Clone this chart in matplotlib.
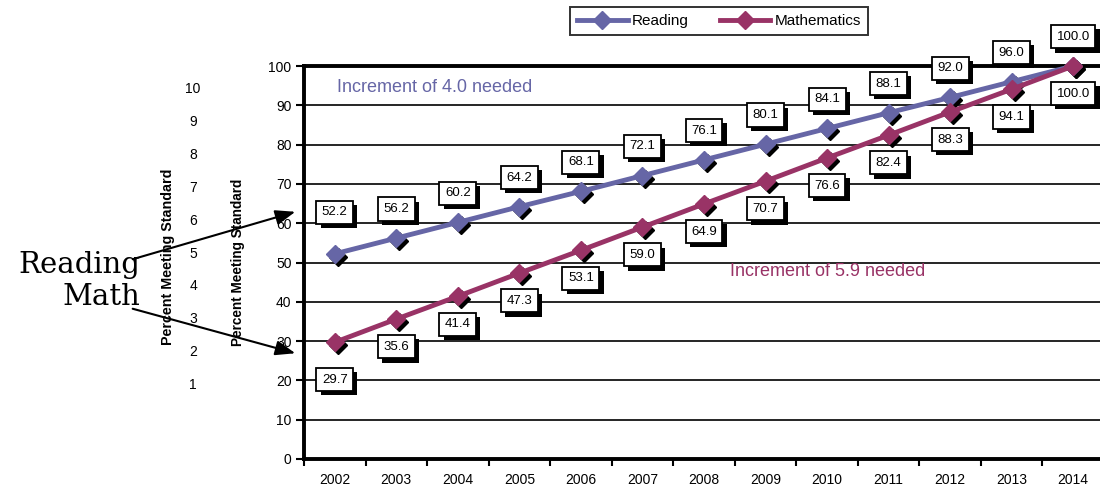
import matplotlib
matplotlib.use("Agg")
from matplotlib import pyplot as plt
from matplotlib import patheffects as pe
from matplotlib import transforms as mtransforms

years = ['2002', '2003', '2004', '2005', '2006', '2007', '2008',
         '2009', '2010', '2011', '2012', '2013', '2014']
reading = [52.2, 56.2, 60.2, 64.2, 68.1, 72.1, 76.1, 80.1, 84.1, 88.1, 92.0, 96.0, 100.0]
math = [29.7, 35.6, 41.4, 47.3, 53.1, 59.0, 64.9, 70.7, 76.6, 82.4, 88.3, 94.1, 100.0]
side_numbers = ['10', '9', '8', '7', '6', '5', '4', '3', '2', '1']

read_color = '#6666a6'
math_color = '#993366'

plt.rcParams['font.family'] = ['Liberation Sans', 'DejaVu Sans']

W, H = 1100, 497
fig = plt.figure(figsize=(W / 100, H / 100), dpi=100)
ax = fig.add_axes([304 / W, 1 - 459 / H, 800 / W, 393 / H])

x = list(range(len(years)))

# shadows under the diamonds
shadow = mtransforms.offset_copy(ax.transData, fig=fig, x=3, y=-3, units='dots')
for vals in (reading, math):
    ax.plot(x, vals, linestyle='none', marker='D', markersize=9,
            color='black', transform=shadow, zorder=3, clip_on=False)

ax.plot(x, reading, color=read_color, linewidth=3.5, marker='D', markersize=9,
        label='Reading', zorder=4, clip_on=False)
ax.plot(x, math, color=math_color, linewidth=3.5, marker='D', markersize=9,
        label='Mathematics', zorder=4, clip_on=False)


def box_label(xi, yi, dy):
    t = ax.annotate(f'{yi:.1f}', (xi, yi), xytext=(0, dy), textcoords='offset points',
                    ha='center', va='center', fontsize=9.5, zorder=6,
                    annotation_clip=False,
                    bbox=dict(boxstyle='square,pad=0.42', fc='white', ec='black', lw=1.3))
    t.get_bbox_patch().set_path_effects([
        pe.SimplePatchShadow(offset=(3, -3), shadow_rgbFace='black', alpha=1.0),
        pe.Normal()])


for i, v in enumerate(reading):
    box_label(i, v, 30 if i == 0 else 21)
for i, v in enumerate(math):
    box_label(i, v, -27 if i == 0 else -20)

ax.text(0.03, 94.5, 'Increment of 4.0 needed', color=read_color, fontsize=13,
        va='center', ha='left')
ax.text(6.42, 47.8, 'Increment of 5.9 needed', color=math_color, fontsize=13,
        va='center', ha='left')

ax.set_xlim(-0.5, len(years) - 0.5)
ax.set_ylim(0, 100)
ax.set_yticks(range(0, 101, 10))
ax.set_xticks(x)
ax.set_xticklabels(years, fontsize=10)
ax.set_xticks([i - 0.5 for i in range(len(years) + 1)], minor=True)
ax.tick_params(axis='x', which='major', length=0, pad=10)
ax.tick_params(axis='x', which='minor', length=5, width=1.5, direction='out')
ax.tick_params(axis='y', length=6, width=1.5, direction='out', labelsize=10, pad=3)
ax.yaxis.grid(True, color='black', linewidth=1.2)
ax.set_axisbelow(True)
for side in ('left', 'bottom', 'top'):
    ax.spines[side].set_linewidth(2.8)
ax.spines['right'].set_visible(False)

fig.legend(loc='center', bbox_to_anchor=(719 / W, 1 - 21 / H), ncol=2,
           fontsize=11, frameon=True, fancybox=False, edgecolor='black',
           handlelength=3.3, handletextpad=0.3, columnspacing=2.0,
           borderpad=0.45).get_frame().set_linewidth(1.4)

# side scale and axis titles left of the chart
for k, s in enumerate(side_numbers):
    fig.text(193 / W, 1 - (89 + k * 32.9) / H, s, ha='center', va='center', fontsize=10)
fig.text(168 / W, 1 - 257 / H, 'Percent Meeting Standard', rotation=90,
         ha='center', va='center', fontsize=10.3, fontweight='bold')
fig.text(238 / W, 1 - 262 / H, 'Percent Meeting Standard', rotation=90,
         ha='center', va='center', fontsize=9.8, fontweight='bold')

fig.text(140 / W, 1 - 265 / H, 'Reading', ha='right', va='center',
         fontsize=21, family='DejaVu Serif')
fig.text(140 / W, 1 - 297 / H, 'Math', ha='right', va='center',
         fontsize=21, family='DejaVu Serif')

arrow = dict(arrowstyle='-|>,head_length=1.2,head_width=0.45', color='black', lw=1.5)
fig.add_artist(plt.matplotlib.text.Annotation(
    '', xy=(298, H - 211), xytext=(130, H - 260), xycoords='figure pixels',
    textcoords='figure pixels', arrowprops=arrow))
fig.add_artist(plt.matplotlib.text.Annotation(
    '', xy=(298, H - 354), xytext=(130, H - 308), xycoords='figure pixels',
    textcoords='figure pixels', arrowprops=arrow))

fig.savefig('out.png', dpi=100)
